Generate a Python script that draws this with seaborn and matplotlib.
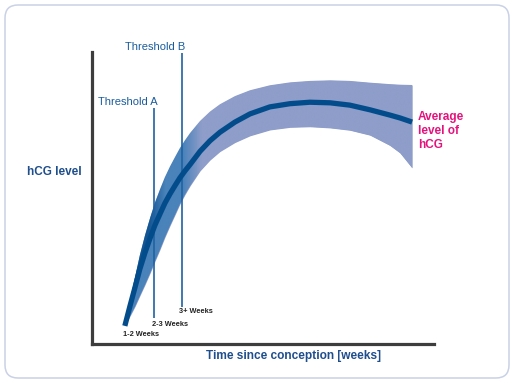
import matplotlib
matplotlib.use("Agg")
import matplotlib.pyplot as plt
import numpy as np
import pandas as pd
import seaborn as sns
from matplotlib.colors import LinearSegmentedColormap, to_rgb
from matplotlib.patches import FancyBboxPatch

# values (x: time in chart units, y: relative hCG level)
weeks = [0.96, 1.11, 1.26, 1.40, 1.55, 1.70, 1.84, 1.99, 2.13, 2.28,
         2.43, 2.57, 2.72, 2.87, 3.16, 3.45, 3.74, 4.18, 4.62, 5.20,
         5.79, 6.37, 6.96, 7.54, 8.13, 8.71, 9.01, 9.36]
mean_level = [6.2, 13.0, 19.5, 25.7, 31.3, 36.3, 40.7, 44.6, 48.2, 51.4,
              54.3, 56.9, 59.3, 61.5, 66.0, 69.6, 72.5, 76.0, 78.8, 81.2,
              82.3, 82.8, 82.6, 81.8, 80.2, 78.4, 77.4, 76.0]
upper_level = [6.2, 15.0, 23.0, 30.4, 37.2, 43.2, 48.4, 53.0, 57.1, 60.8,
               64.1, 67.1, 69.8, 72.3, 76.4, 79.6, 82.1, 84.9, 86.9, 88.6,
               89.6, 90.1, 90.3, 90.1, 89.5, 89.0, 88.8, 88.7]
lower_level = [6.2, 9.5, 12.9, 16.5, 20.3, 24.3, 28.3, 32.4, 36.5, 40.5,
               44.3, 47.9, 51.2, 54.2, 59.3, 63.0, 65.9, 69.0, 71.3, 73.3,
               74.2, 74.4, 74.0, 73.2, 71.5, 68.0, 65.4, 60.3]

threshold_weeks = [1.81, 2.63]
threshold_labels = ["Threshold A", "Threshold B"]
week_labels = ["1-2 Weeks", "2-3 Weeks", "3+ Weeks"]

df = pd.DataFrame({"week": weeks, "mean": mean_level,
                   "upper": upper_level, "lower": lower_level})

sns.set_style("white")
plt.rcParams["font.family"] = ["Liberation Sans", "DejaVu Sans"]

W, H = 514, 383
fig = plt.figure(figsize=(W / 100, H / 100), dpi=100)
fig.patch.set_facecolor("white")


def px(x, y):
    return x / W, 1 - y / H


# rounded frame round the whole picture
frame = FancyBboxPatch((0.05, 0.05), 5.04, 3.73,
                       boxstyle="round,pad=0,rounding_size=0.13",
                       transform=fig.dpi_scale_trans, fill=False,
                       edgecolor="#C9D1E6", linewidth=1.1)
fig.patches.append(frame)

ax = fig.add_axes([92 / W, 1 - 344 / H, (434 - 92) / W, (344 - 52) / H])
ax.set_xlim(0, 10)
ax.set_ylim(0, 100)
ax.set_xticks([])
ax.set_yticks([])
for side in ["top", "right"]:
    ax.spines[side].set_visible(False)
for side in ["left", "bottom"]:
    ax.spines[side].set_color("#3d3d3d")
    ax.spines[side].set_linewidth(2.3)
    ax.spines[side].set_capstyle("projecting")

# band, medium blue on the left fading to periwinkle
band = ax.fill_between(df["week"], df["lower"], df["upper"],
                       color="#8E9DC9", linewidth=0, zorder=1)
cmap = LinearSegmentedColormap.from_list(
    "band", [(0, "#4A82BA"), (0.265, "#4A82BA"), (0.32, "#8E9DC9"), (1, "#8E9DC9")])
grad = np.linspace(0, 1, 500)[np.newaxis, :]
im = ax.imshow(grad, extent=(0, 10, 0, 100), aspect="auto", cmap=cmap,
               zorder=1.5, interpolation="bilinear")
im.set_clip_path(band.get_paths()[0], transform=ax.transData)

# darker shading on the early upper half, fading out to the right
upper_half = ax.fill_between(df["week"], df["mean"], df["upper"],
                             color="none", linewidth=0)
xs = np.linspace(0, 10, 500)
alpha = np.clip((2.15 - xs) / 0.5, 0, 1) * 0.85
dark = np.zeros((1, 500, 4))
dark[..., :3] = to_rgb("#0A4D8C")
dark[..., 3] = alpha
im2 = ax.imshow(dark, extent=(0, 10, 0, 100), aspect="auto", zorder=2,
                interpolation="bilinear")
im2.set_clip_path(upper_half.get_paths()[0], transform=ax.transData)

# thresholds
line_col = "#1F62A3"
ax.vlines(threshold_weeks[0], 8.9, 80.8, color=line_col, lw=1.2, zorder=3)
ax.vlines(threshold_weeks[1], 12.7, 99.7, color=line_col, lw=1.2, zorder=3,
          clip_on=False)

sns.lineplot(data=df, x="week", y="mean", ax=ax, color="#034C8C",
             linewidth=3.8, zorder=4, legend=False, solid_capstyle="butt")
ax.set_xlabel("")
ax.set_ylabel("")
ax.set_xlim(0, 10)
ax.set_ylim(0, 100)

ax.text(1.93, 82.9, threshold_labels[0], ha="right", va="center",
        fontsize=8, color="#1A5C9E")
ax.text(2.72, 101.7, threshold_labels[1], ha="right", va="center",
        fontsize=8, color="#1A5C9E", clip_on=False)

ax.text(0.91, 3.4, week_labels[0], ha="left", va="center", fontsize=5.3,
        fontweight="bold", color="#222222")
ax.text(1.75, 6.8, week_labels[1], ha="left", va="center", fontsize=5.3,
        fontweight="bold", color="#222222")
ax.text(2.54, 11.0, week_labels[2], ha="left", va="center", fontsize=5.3,
        fontweight="bold", color="#222222")

fig.text(*px(27, 172), "hCG level", ha="left", va="center", fontsize=8.5,
         fontweight="bold", color="#1F4E8C")
fig.text(*px(294, 356), "Time since conception [weeks]", ha="center",
         va="center", fontsize=8.6, fontweight="bold", color="#1F4E8C")
fig.text(*px(418, 131), "Average\nlevel of\nhCG", ha="left", va="center",
         fontsize=8.5, fontweight="bold", color="#E5127D", linespacing=1.25)

fig.savefig("out.png", dpi=100)
